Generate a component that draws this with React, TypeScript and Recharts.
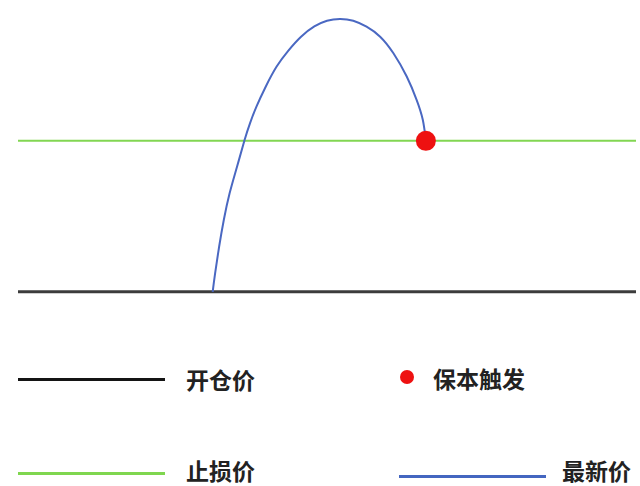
import React from 'react';
import {
  ComposedChart,
  Line,
  XAxis,
  YAxis,
  ReferenceLine,
  ReferenceDot
} from 'recharts';

// 价格参考线
const OPEN_PRICE = 100;
const STOP_PRICE = 105;

// 最新价走势（时间 / 价格）
const curveTime = [
  6.3, 6.38, 6.51, 6.66, 6.85, 7.09, 7.33, 7.51, 7.72, 8.02, 8.37, 8.75,
  9.16, 9.59, 10.0, 10.42, 10.85, 11.28, 11.72, 12.15, 12.58, 12.9, 13.1, 13.2
];
const curvePrice = [
  100.0, 100.62, 101.5, 102.38, 103.27, 104.15, 105.02, 105.59, 106.14, 106.8, 107.46, 107.99,
  108.45, 108.79, 108.98, 109.04, 108.98, 108.78, 108.45, 107.9, 107.13, 106.36, 105.7, 105.0
];

// 保本触发点
const triggerTime = 13.2;
const triggerPrice = 105;

const legendItems = [
  { label: '开仓价', kind: 'line', color: '#141414', left: 18, top: 379, textTop: 379, textLeft: 186 },
  { label: '保本触发', kind: 'dot', color: '#ee1111', left: 400, top: 377, textTop: 378, textLeft: 433 },
  { label: '止损价', kind: 'line', color: '#7fd64f', left: 18, top: 473, textTop: 470, textLeft: 186 },
  { label: '最新价', kind: 'line', color: '#4466c0', left: 399, top: 476, textTop: 470, textLeft: 562 }
];

const data = curveTime.map((t, i) => ({ t, price: curvePrice[i] }));

const App: React.FC = () => {
  return (
    <div
      style={{
        position: 'absolute',
        left: 0,
        top: 0,
        width: 640,
        height: 486,
        background: '#fff',
        overflow: 'hidden',
        fontFamily: '"Noto Sans CJK SC", sans-serif'
      }}
    >
      <div style={{ position: 'absolute', left: 0, top: 5 }}>
        <ComposedChart
          width={640}
          height={317}
          data={data}
          margin={{ top: 0, right: 4, bottom: 0, left: 18 }}
        >
          <XAxis dataKey="t" type="number" domain={[0, 20]} hide />
          <YAxis type="number" domain={[99, 109.5]} hide />
          <ReferenceLine y={OPEN_PRICE} stroke="#3c3c3c" strokeWidth={3} />
          <ReferenceLine y={STOP_PRICE} stroke="#82d652" strokeWidth={2} />
          {/* natural 对 x、y 分别插值，起点近乎竖直也能平滑 */}
          <Line
            type="natural"
            dataKey="price"
            stroke="#4a68c2"
            strokeWidth={2}
            dot={false}
            activeDot={false}
            isAnimationActive={false}
          />
          <ReferenceDot
            x={triggerTime}
            y={triggerPrice}
            r={10}
            fill="#ee1111"
            stroke="none"
          />
        </ComposedChart>
      </div>

      {/* 图例 */}
      {legendItems.map((item) => (
        <React.Fragment key={item.label}>
          {item.kind === 'line' ? (
            <div
              style={{
                position: 'absolute',
                left: item.left,
                top: item.top - 1.5,
                width: 147,
                height: 3,
                background: item.color
              }}
            />
          ) : (
            <div
              style={{
                position: 'absolute',
                left: item.left,
                top: item.top - 7,
                width: 14,
                height: 14,
                borderRadius: '50%',
                background: item.color
              }}
            />
          )}
          <div
            style={{
              position: 'absolute',
              left: item.textLeft,
              top: item.textTop - 12,
              fontSize: 23,
              lineHeight: '24px',
              fontWeight: 700,
              color: '#222',
              whiteSpace: 'nowrap'
            }}
          >
            {item.label}
          </div>
        </React.Fragment>
      ))}
    </div>
  );
};

export default App;
